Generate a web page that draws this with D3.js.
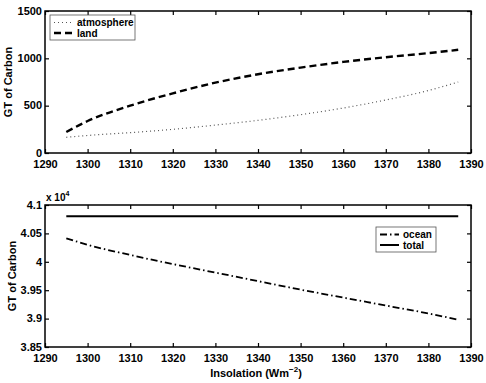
<!DOCTYPE html>
<html lang="en">
<head>
<meta charset="UTF-8" />
<script src="https://d3js.org/d3.v7.min.js"></script>
<style>
  body { margin: 0; background: #fff; }
  text { font-family: "Liberation Sans", Arial, sans-serif; font-weight: bold; }
</style>
</head>
<body>
<div id="chart"></div>
<script>
// data
var insolation = [1295, 1300, 1310, 1320, 1330, 1340, 1350, 1360, 1370, 1380, 1387];
var atmosphere = [166, 185, 215, 250, 295, 345, 405, 475, 560, 660, 750];
var land = [222, 338, 500, 630, 743, 832, 902, 962, 1012, 1055, 1090];
var ocean = [4.0414, 4.030, 4.012, 3.996, 3.981, 3.966, 3.951, 3.937, 3.923, 3.909, 3.898];
var total = [4.08, 4.08, 4.08, 4.08, 4.08, 4.08, 4.08, 4.08, 4.08, 4.08, 4.08];
var xTicks = [1290, 1300, 1310, 1320, 1330, 1340, 1350, 1360, 1370, 1380, 1390];
var topTicks = [0, 500, 1000, 1500];
var botTicks = [3.85, 3.9, 3.95, 4, 4.05, 4.1];

var W = 486, H = 383;
var left = 45, right = 471;

var svg = d3.select("#chart").append("svg")
  .attr("width", W).attr("height", H);

var x = d3.scaleLinear().domain([1290, 1390]).range([left, right]);

function panel(top, bottom, domain, ticks, fmt, labelX) {
  var y = d3.scaleLinear().domain(domain).range([bottom, top]);
  var g = svg.append("g");
  g.append("rect").attr("x", left).attr("y", top)
    .attr("width", right - left).attr("height", bottom - top)
    .attr("fill", "none").attr("stroke", "#000").attr("stroke-width", 1.5);

  // ticks on all four sides, pointing in
  var xb = g.append("g").attr("transform", "translate(0," + bottom + ")")
    .call(d3.axisBottom(x).tickValues(xTicks).tickSizeInner(-4).tickSizeOuter(0).tickPadding(7).tickFormat(d3.format("d")));
  var xt = g.append("g").attr("transform", "translate(0," + top + ")")
    .call(d3.axisTop(x).tickValues(xTicks).tickSizeInner(-4).tickSizeOuter(0).tickFormat(""));
  var yl = g.append("g").attr("transform", "translate(" + left + ",0)")
    .call(d3.axisLeft(y).tickValues(ticks).tickSizeInner(-4).tickSizeOuter(0).tickPadding(3).tickFormat(fmt));
  var yr = g.append("g").attr("transform", "translate(" + right + ",0)")
    .call(d3.axisRight(y).tickValues(ticks).tickSizeInner(-4).tickSizeOuter(0).tickFormat(""));
  [xb, xt, yl, yr].forEach(function (a) {
    a.select(".domain").remove();
    a.selectAll("line").attr("stroke-width", 1.2);
    a.selectAll("text").attr("font-size", 11).attr("fill", "#000");
  });
  yl.selectAll("text").attr("dy", "0.3em");
  g.append("text")
    .attr("transform", "translate(" + labelX + "," + ((top + bottom) / 2) + ") rotate(-90)")
    .attr("text-anchor", "middle").attr("font-size", 11)
    .text("GT of Carbon");
  return y;
}

function drawLine(y, vals, dash, width, color) {
  var pts = insolation.map(function (d, i) { return [d, vals[i]]; });
  svg.append("path").datum(pts)
    .attr("fill", "none").attr("stroke", color).attr("stroke-width", width)
    .attr("stroke-dasharray", dash)
    .attr("d", d3.line().curve(d3.curveMonotoneX)
      .x(function (d) { return x(d[0]); })
      .y(function (d) { return y(d[1]); }));
}

function legend(x0, y0, w, items) {
  var g = svg.append("g").attr("transform", "translate(" + x0 + "," + y0 + ")");
  g.append("rect").attr("width", w).attr("height", 4 + items.length * 10.5)
    .attr("fill", "#fff").attr("stroke", "#555").attr("stroke-width", 0.8);
  items.forEach(function (it, i) {
    var yy = 7.5 + i * 10.5;
    g.append("line").attr("x1", 4).attr("x2", 23).attr("y1", yy).attr("y2", yy)
      .attr("stroke", it.color).attr("stroke-width", it.width)
      .attr("stroke-dasharray", it.dash);
    g.append("text").attr("x", 27).attr("y", yy + 3.5).attr("font-size", 10).text(it.name);
  });
}

// top panel
var y1 = panel(11, 153, [0, 1500], topTicks, d3.format("d"), 12);
drawLine(y1, atmosphere, "1,3", 1.2, "#555");
drawLine(y1, land, "7,4", 2.4, "#000");
legend(50, 15, 85, [
  { name: "atmosphere", dash: "1,3", width: 1.2, color: "#555" },
  { name: "land", dash: "7,4", width: 2.4, color: "#000" }
]);

// bottom panel
var y2 = panel(205, 347, [3.85, 4.1], botTicks, function (d) { return d3.format("")(+d.toFixed(2)); }, 16);
drawLine(y2, ocean, "7,3,1.5,3", 1.8, "#000");
drawLine(y2, total, null, 2, "#000");
legend(376, 227, 60, [
  { name: "ocean", dash: "7,3,1.5,3", width: 1.8, color: "#000" },
  { name: "total", dash: null, width: 2, color: "#000" }
]);

svg.append("text").attr("x", 46).attr("y", 201).attr("font-size", 10)
  .text("x 10").append("tspan").attr("dy", -5).attr("font-size", 7).text("4");

var xl = svg.append("text").attr("x", 256).attr("y", 377)
  .attr("text-anchor", "middle").attr("font-size", 11).text("Insolation (Wm");
xl.append("tspan").attr("dy", -5).attr("font-size", 8).text("\u22122");
xl.append("tspan").attr("dy", 5).text(")");
</script>
</body>
</html>
